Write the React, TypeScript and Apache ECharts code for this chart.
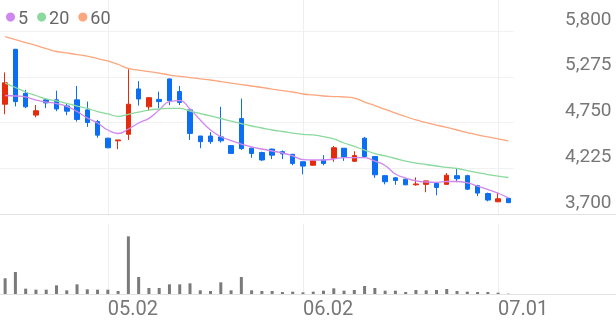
import React, { useEffect, useRef } from 'react';
import * as echarts from 'echarts';

const dates = [
  '04.17', '04.18', '04.21', '04.22', '04.23', '04.24', '04.25', '04.28', '04.29', '04.30',
  '05.02', '05.07', '05.08', '05.09', '05.12', '05.13', '05.14', '05.15', '05.16', '05.19',
  '05.20', '05.21', '05.22', '05.23', '05.26', '05.27', '05.28', '05.29', '05.30', '06.02',
  '06.04', '06.05', '06.09', '06.10', '06.11', '06.12', '06.13', '06.16', '06.17', '06.18',
  '06.19', '06.20', '06.23', '06.24', '06.25', '06.26', '06.27', '06.30', '07.01', '07.02',
];
const tickLabels = ['05.02', '06.02', '07.01'];
const priceTicks = [3700, 4225, 4750, 5275, 5800];

const opens = [
  4960, 5590, 5085, 4835, 5010, 5010, 4940, 5010, 4895, 4760,
  4570, 4540, 4615, 5135, 4930, 5015, 5250, 5105, 4895, 4595,
  4595, 4585, 4485, 4795, 4455, 4405, 4445, 4415, 4385, 4300,
  4260, 4320, 4340, 4455, 4305, 4570, 4360, 4140, 4115, 4100,
  4035, 4040, 4050, 4040, 4140, 4140, 4025, 3935, 3840, 3880,
];
const closes = [
  5205, 4990, 4930, 4885, 4975, 4905, 4880, 4785, 4750, 4605,
  4460, 4550, 4960, 5020, 5035, 4990, 5000, 4980, 4625, 4530,
  4530, 4540, 4395, 4450, 4395, 4320, 4375, 4390, 4280, 4250,
  4310, 4280, 4460, 4355, 4370, 4360, 4150, 4070, 4085, 4035,
  4045, 4080, 4005, 4145, 4105, 3985, 3940, 3860, 3875, 3830,
];
const lows = [
  4845, 4935, 4915, 4810, 4915, 4880, 4835, 4760, 4700, 4575,
  4455, 4445, 4550, 4945, 4885, 4915, 4950, 4950, 4550, 4455,
  4505, 4520, 4390, 4435, 4345, 4310, 4330, 4330, 4260, 4155,
  4255, 4260, 4300, 4310, 4300, 4345, 4115, 4040, 4035, 4030,
  4025, 3950, 3915, 4035, 4065, 3975, 3905, 3845, 3840, 3830,
];
const highs = [
  5325, 5595, 5125, 4950, 5015, 5115, 4965, 5170, 4990, 4780,
  4575, 4550, 5360, 5225, 5035, 5105, 5255, 5170, 4895, 4595,
  4640, 4930, 4490, 5025, 4465, 4415, 4450, 4430, 4390, 4300,
  4315, 4375, 4480, 4455, 4420, 4585, 4365, 4145, 4125, 4110,
  4120, 4080, 4050, 4170, 4225, 4150, 4035, 3945, 3945, 3880,
];
const volumes = [
  470000, 660000, 160000, 130000, 130000, 260000, 110000, 290000, 140000, 130000,
  130000, 90000, 1730000, 510000, 180000, 180000, 290000, 290000, 320000, 110000,
  90000, 350000, 110000, 510000, 110000, 90000, 90000, 60000, 70000, 50000,
  70000, 100000, 170000, 100000, 120000, 240000, 180000, 100000, 100000, 60000,
  120000, 110000, 120000, 150000, 90000, 70000, 60000, 60000, 40000, 10000,
];
const ma5 = [
  5060, 5054, 5043, 5008, 4985, 4968, 4934, 4876, 4802, 4744,
  4664, 4624, 4675, 4744, 4798, 4893, 4991, 5002, 4905, 4779,
  4664, 4587, 4543, 4503, 4469, 4446, 4423, 4400, 4366, 4325,
  4320, 4320, 4331, 4348, 4348, 4346, 4308, 4257, 4159, 4113,
  4079, 4067, 4064, 4073, 4073, 4056, 4021, 3981, 3938, 3886,
];
const ma20 = [
  5203, 5152, 5100, 5060, 5020, 4997, 4970, 4939, 4911, 4876,
  4848, 4821, 4844, 4870, 4893, 4905, 4913, 4913, 4882, 4853,
  4825, 4796, 4767, 4738, 4710, 4687, 4664, 4647, 4629, 4615,
  4607, 4589, 4561, 4515, 4475, 4434, 4394, 4366, 4337, 4308,
  4285, 4268, 4251, 4234, 4222, 4199, 4176, 4153, 4134, 4119,
];
const ma60 = [
  5737, 5702, 5668, 5634, 5599, 5565, 5548, 5530, 5513, 5484,
  5456, 5416, 5370, 5352, 5335, 5318, 5295, 5280, 5266, 5251,
  5238, 5220, 5203, 5186, 5169, 5152, 5134, 5117, 5100, 5077,
  5066, 5054, 5048, 5043, 5031, 4985, 4945, 4901, 4859, 4819,
  4779, 4750, 4721, 4693, 4664, 4635, 4607, 4584, 4561, 4538,
];

const RED = '#e42b0c';
const BLUE = '#0c6ff3';
const C5 = '#cf88ee';
const C20 = '#8bd99c';
const C60 = '#fca67e';
const FONT = 'Roboto';

export default function App() {
  const ref = useRef<HTMLDivElement>(null);
  useEffect(() => {
    const chart = echarts.init(ref.current!, null, { renderer: 'svg' });
    const gridRight = 102.5;
    const showTick = (_i: number, v: string) => tickLabels.includes(v);
    const xBase = {
      type: 'category',
      data: dates,
      boundaryGap: true,
      axisLine: { show: false },
      axisTick: { show: false },
      splitLine: {
        show: true,
        interval: showTick,
        alignWithLabel: true,
        lineStyle: { color: '#efefef', width: 1 },
      },
    };
    chart.setOption({
      animation: false,
      textStyle: { fontFamily: FONT },
      legend: {
        data: ['5', '20', '60'],
        icon: 'circle',
        itemWidth: 9,
        itemHeight: 9,
        itemGap: 9,
        left: 1,
        top: 3,
        textStyle: { fontSize: 18, color: '#666', fontFamily: FONT, padding: [0, 0, 0, -2] },
      },
      grid: [
        { left: 0, right: gridRight, top: 0, height: 214 },
        { left: 0, right: gridRight, top: 224, height: 70 },
      ],
      xAxis: [
        { ...xBase, gridIndex: 0, axisLabel: { show: false } },
        {
          ...xBase,
          gridIndex: 1,
          axisLabel: {
            show: true,
            interval: showTick,
            align: 'left',
            margin: 4,
            fontSize: 20,
            color: '#777',
            fontFamily: FONT,
          },
        },
      ],
      yAxis: [
        {
          type: 'value',
          gridIndex: 0,
          position: 'right',
          min: 3700,
          max: 6156,
          interval: 525,
          axisLine: { show: false },
          axisTick: { show: false },
          splitLine: { show: true, showMinLine: false, showMaxLine: false, lineStyle: { color: '#f1f1f1' } },
          axisLabel: {
            showMaxLabel: false,
            formatter: (v: number) => (priceTicks.includes(v) ? v.toLocaleString('en-US') : ''),
            align: 'right',
            verticalAlign: 'bottom',
            lineHeight: 26,
            margin: 98,
            fontSize: 19,
            color: '#777',
            fontFamily: FONT,
          },
        },
        {
          type: 'value',
          gridIndex: 1,
          min: 0,
          max: 2100000,
          show: false,
          splitLine: { show: false },
        },
      ],
      series: [
        {
          type: 'candlestick',
          name: 'price',
          xAxisIndex: 0,
          yAxisIndex: 0,
          barWidth: 5,
          data: dates.map((_, i) => [opens[i], closes[i], lows[i], highs[i]]),
          itemStyle: { color: RED, color0: BLUE, borderColor: RED, borderColor0: BLUE, borderWidth: 1 },
        },
        {
          type: 'line', name: '5', data: ma5, showSymbol: false, smooth: true,
          lineStyle: { color: C5, width: 1.3 }, itemStyle: { color: C5 },
        },
        {
          type: 'line', name: '20', data: ma20, showSymbol: false, smooth: true,
          lineStyle: { color: C20, width: 1.3 }, itemStyle: { color: C20 },
        },
        {
          type: 'line', name: '60', data: ma60, showSymbol: false, smooth: true,
          lineStyle: { color: C60, width: 1.3 }, itemStyle: { color: C60 },
        },
        {
          type: 'bar', name: 'volume', xAxisIndex: 1, yAxisIndex: 1, data: volumes,
          barWidth: 3, itemStyle: { color: '#7a7a7a' },
        },
      ],
      graphic: [
        { type: 'line', shape: { x1: 0, y1: 214.5, x2: 616, y2: 214.5 }, style: { stroke: '#e2e2e2', lineWidth: 1 }, silent: true },
        { type: 'line', shape: { x1: 0, y1: 294.5, x2: 616, y2: 294.5 }, style: { stroke: '#e2e2e2', lineWidth: 1 }, silent: true },
      ],
    });
    return () => chart.dispose();
  }, []);
  return <div ref={ref} style={{ position: 'fixed', left: 0, top: 0, width: 616, height: 321 }} />;
}
